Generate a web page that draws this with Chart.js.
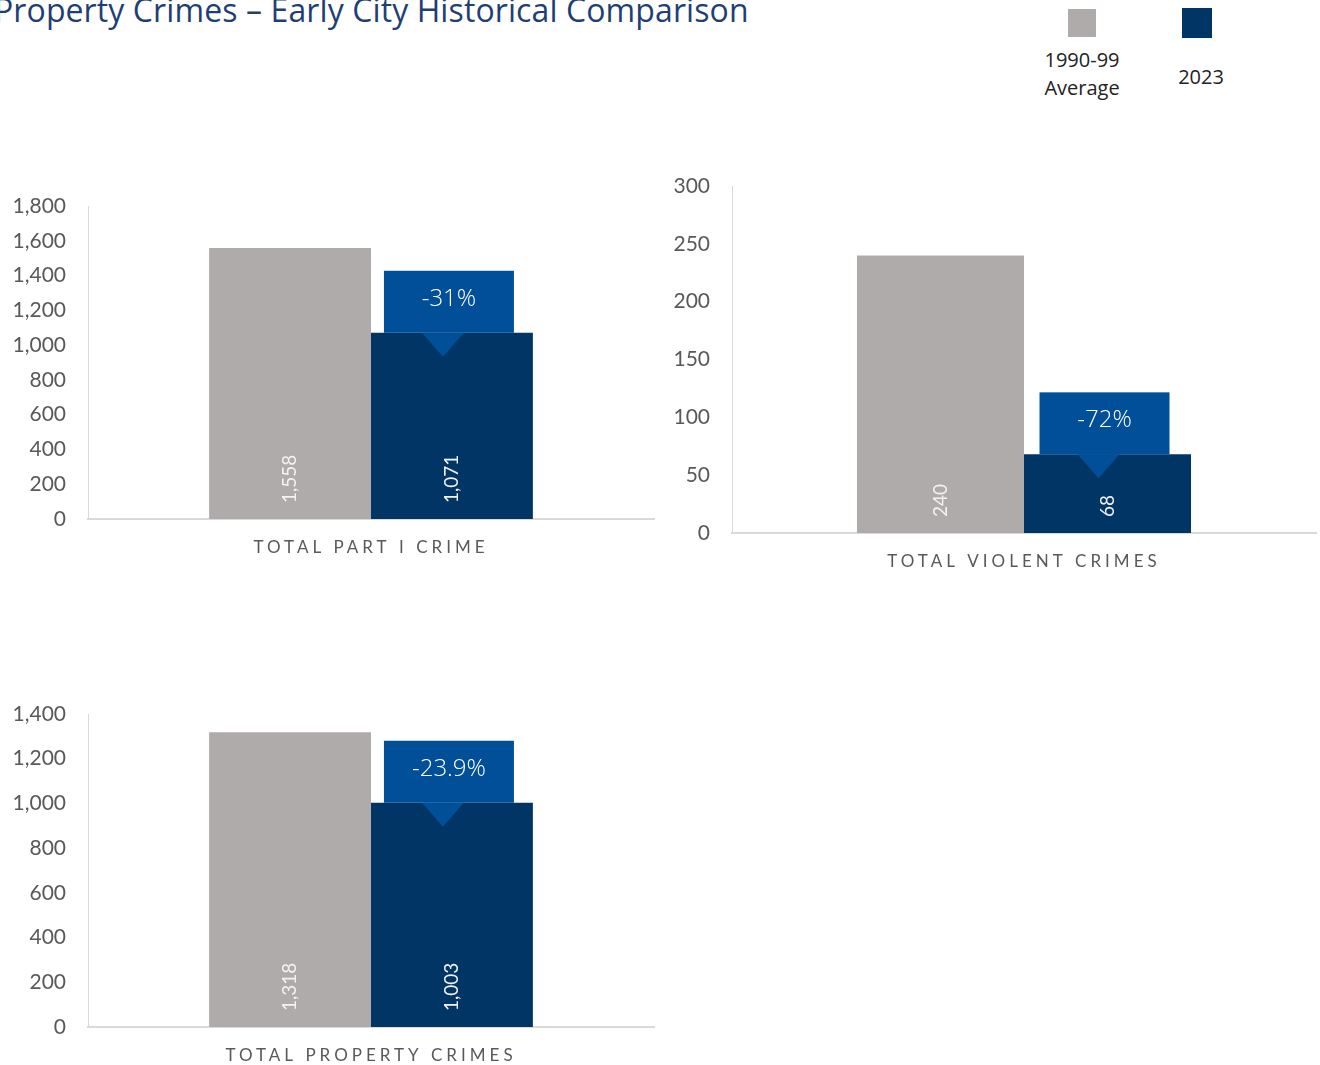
<!DOCTYPE html>
<html>
<head>
<meta charset="utf-8">
<script src="https://cdn.jsdelivr.net/npm/chart.js@4"></script>
<style>
  html, body { margin:0; padding:0; width:1320px; height:1065px; overflow:hidden; background:#fff; }
  #title { position:absolute; left:-6px; top:-12px; font-family:"Open Sans", sans-serif; font-size:32px; font-weight:400; color:#1F3F74; white-space:nowrap; letter-spacing:0.1px; }
  .lg { position:absolute; font-family:"Open Sans", sans-serif; font-size:20px; color:#222; text-align:center; line-height:28px; }
  .sw { position:absolute; }
  canvas { position:absolute; }
</style>
</head>
<body>
<div id="title">Property Crimes – Early City Historical Comparison</div>
<div id="legend"></div>
<canvas id="c0"></canvas>
<canvas id="c1"></canvas>
<canvas id="c2"></canvas>
<script>
// ---- data ----
const categories = ['TOTAL PART I CRIME', 'TOTAL VIOLENT CRIMES', 'TOTAL PROPERTY CRIMES'];
const seriesNames = ['1990-99\nAverage', '2023'];
const avg1990s = [1558, 240, 1318];
const year2023 = [1071, 68, 1003];
const changeLabels = ['-31%', '-72%', '-23.9%'];
const axisMax = [1800, 300, 1400];
const axisStep = [200, 50, 200];

// ---- styles ----
const colors = ['#AFABAB', '#003566'];
const calloutColor = '#004F98';
const layouts = [
  { left: 0,   top: 191, w: 670, h: 380, yW: 88, xH: 52, right: 16 },
  { left: 660, top: 171, w: 660, h: 410, yW: 72, xH: 48, right: 4 },
  { left: 0,   top: 699, w: 670, h: 380, yW: 88, xH: 52, right: 16 }
];

// legend
const legendDiv = document.getElementById('legend');
const swatches = [{ x: 1068, y: 9, s: 28, tx: 1082, ty: 46 }, { x: 1182, y: 8, s: 30, tx: 1201, ty: 63 }];
seriesNames.forEach((n, i) => {
  const sw = document.createElement('div');
  sw.className = 'sw';
  Object.assign(sw.style, { left: swatches[i].x + 'px', top: swatches[i].y + 'px', width: swatches[i].s + 'px', height: swatches[i].s + 'px', background: colors[i] });
  legendDiv.appendChild(sw);
  const t = document.createElement('div');
  t.className = 'lg';
  t.innerHTML = n.split('\n').join('<br>');
  Object.assign(t.style, { left: (swatches[i].tx - 60) + 'px', width: '120px', top: swatches[i].ty + 'px' });
  legendDiv.appendChild(t);
});

const labelPlugin = {
  id: 'labels',
  afterDatasetsDraw(chart) {
    const ctx = chart.ctx;
    const idx = chart.options.plugins.labels.idx;
    chart.data.datasets.forEach((ds, di) => {
      const meta = chart.getDatasetMeta(di);
      meta.data.forEach((bar, bi) => {
        const v = ds.data[bi];
        ctx.save();
        ctx.translate(bar.x, bar.base - 16);
        ctx.rotate(-Math.PI / 2);
        ctx.font = '19px Lato, sans-serif';
        ctx.fillStyle = '#F2F2F2';
        ctx.textAlign = 'left';
        ctx.textBaseline = 'middle';
        ctx.fillText(v.toLocaleString('en-US'), 0, 0);
        ctx.restore();
      });
    });
    // callout on 2023 bar
    const bar = chart.getDatasetMeta(1).data[0];
    const top = bar.y;
    const bw = 130, bh = 62;
    const cx = bar.x - 3;
    const tipX = bar.x - 9;
    ctx.save();
    ctx.fillStyle = calloutColor;
    ctx.fillRect(cx - bw / 2, top - bh, bw, bh);
    ctx.beginPath();
    ctx.moveTo(tipX - 21, top);
    ctx.lineTo(tipX + 21, top);
    ctx.lineTo(tipX, top + 24);
    ctx.closePath();
    ctx.fill();
    ctx.fillStyle = '#FFFFFF';
    ctx.font = '300 24px "Open Sans", sans-serif';
    ctx.textAlign = 'center';
    ctx.textBaseline = 'middle';
    ctx.fillText(changeLabels[idx], cx, top - bh / 2 - 3);
    ctx.restore();
  }
};

const spacingPlugin = {
  id: 'spacing',
  beforeDraw(chart) {
    const sc = chart.scales.x;
    if (sc._wrapped) return;
    const orig = sc.drawLabels;
    sc.drawLabels = function (area) {
      const ctx = this.ctx;
      ctx.save();
      ctx.letterSpacing = '4px';
      orig.call(this, area);
      ctx.restore();
    };
    sc._wrapped = true;
  }
};

categories.forEach((cat, i) => {
  const L = layouts[i];
  const cv = document.getElementById('c' + i);
  Object.assign(cv.style, { left: L.left + 'px', top: L.top + 'px', width: L.w + 'px', height: L.h + 'px' });
  cv.width = L.w; cv.height = L.h;
  new Chart(cv, {
    type: 'bar',
    data: {
      labels: [cat],
      datasets: [
        { label: seriesNames[0], data: [avg1990s[i]], backgroundColor: colors[0] },
        { label: seriesNames[1], data: [year2023[i]], backgroundColor: colors[1] }
      ]
    },
    options: {
      responsive: false,
      animation: false,
      devicePixelRatio: 1,
      categoryPercentage: 0.572,
      barPercentage: 1,
      layout: { padding: { top: 15, right: L.right, left: 0, bottom: 0 } },
      plugins: { legend: { display: false }, tooltip: { enabled: false }, labels: { idx: i } },
      scales: {
        x: {
          grid: { display: false, drawTicks: false },
          border: { display: true, color: '#D9D9D9', width: 2 },
          ticks: { color: '#595959', font: { family: 'Lato, sans-serif', size: 17 }, padding: 18 },
          afterFit(s) { s.height = L.xH; s.paddingLeft = 0; s.paddingRight = 0; }
        },
        y: {
          min: 0, max: axisMax[i],
          grid: { display: false, drawTicks: false },
          border: { display: true, color: '#D9D9D9', width: 1 },
          ticks: {
            stepSize: axisStep[i], color: '#595959', padding: 22,
            font: { family: 'Lato, sans-serif', size: 21 },
            callback: v => v.toLocaleString('en-US')
          },
          afterFit(s) { s.width = L.yW; s.paddingTop = 0; s.paddingBottom = 0; }
        }
      }
    },
    plugins: [labelPlugin, spacingPlugin]
  });
});
</script>
</body>
</html>
